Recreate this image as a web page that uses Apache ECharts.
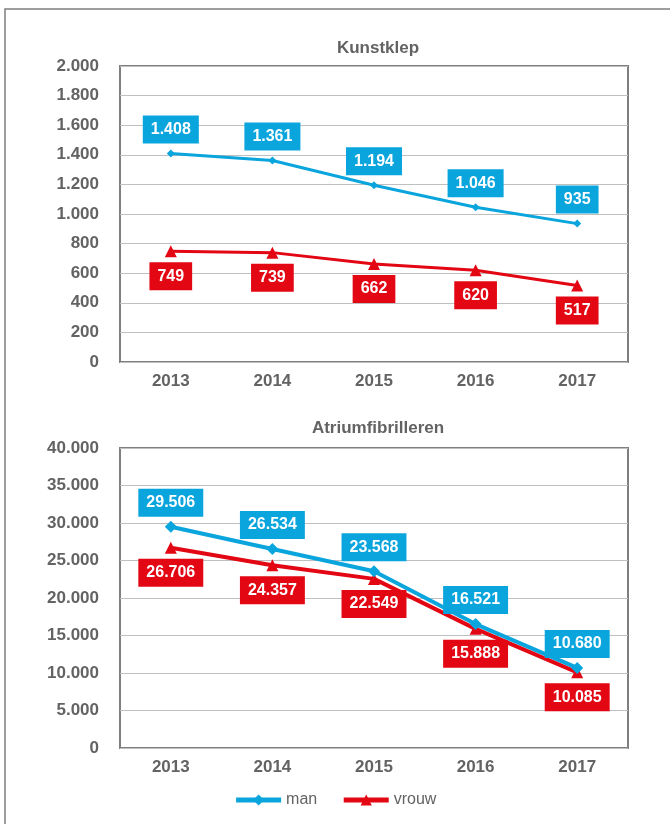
<!DOCTYPE html>
<html>
<head>
<meta charset="utf-8">
<script src="https://cdn.jsdelivr.net/npm/echarts@6/dist/echarts.min.js"></script>
<style>
html,body{margin:0;padding:0;background:#fff;}
#chart{width:670px;height:824px;}
</style>
</head>
<body>
<div id="chart"></div>
<script>
// data
var years = ['2013', '2014', '2015', '2016', '2017'];
var klepMan = [1408, 1361, 1194, 1046, 935];
var klepVrouw = [749, 739, 662, 620, 517];
var afMan = [29506, 26534, 23568, 16521, 10680];
var afVrouw = [26706, 24357, 22549, 15888, 10085];
var titles = ['Kunstklep', 'Atriumfibrilleren'];

var blue = '#0aa5dd';
var red = '#e30613';
var grey = '#636363';
var font = 'Liberation Sans';

// 1.408 stijl
function dots(v) {
    return String(v).replace(/\B(?=(\d{3})+(?!\d))/g, '.');
}

function labelStyle(color, pos, dist) {
    return {
        show: true,
        position: pos,
        distance: dist,
        backgroundColor: color,
        color: '#fff',
        fontFamily: font,
        fontWeight: 'bold',
        fontSize: 16,
        padding: [6, 8, 6, 8],
        formatter: function (p) { return dots(p.value); }
    };
}

function manSeries(data, idx) {
    return {
        name: 'man',
        type: 'line',
        xAxisIndex: idx,
        yAxisIndex: idx,
        data: data,
        symbol: 'diamond',
        symbolSize: idx ? 12 : 8,
        lineStyle: {color: blue, width: idx ? 4 : 3},
        itemStyle: {color: blue},
        label: labelStyle(blue, 'top', idx ? 4 : 6),
        z: 3
    };
}

function vrouwSeries(data, idx) {
    return {
        name: 'vrouw',
        type: 'line',
        xAxisIndex: idx,
        yAxisIndex: idx,
        data: data,
        symbol: 'triangle',
        symbolSize: 12,
        lineStyle: {color: red, width: idx ? 4 : 3},
        itemStyle: {color: red},
        label: labelStyle(red, 'bottom', 5),
        z: 2
    };
}

function xAxis(idx) {
    return {
        type: 'category',
        gridIndex: idx,
        data: years,
        axisLine: {show: false},
        axisTick: {show: false},
        axisLabel: {color: grey, fontFamily: font, fontWeight: 'bold', fontSize: 17, margin: 11}
    };
}

function yAxis(idx, max, step) {
    return {
        type: 'value',
        gridIndex: idx,
        min: 0,
        max: max,
        interval: step,
        axisLine: {show: false},
        axisTick: {show: false},
        axisLabel: {
            color: grey, fontFamily: font, fontWeight: 'bold', fontSize: 17, margin: 21,
            formatter: function (v) { return dots(v); }
        },
        splitLine: {lineStyle: {color: '#bfbfbf', width: 1}}
    };
}

var myChart = echarts.init(document.getElementById('chart'));
var option = {
    animation: false,
    title: [
        {text: titles[0], left: 373, top: 35, textAlign: 'center',
            textStyle: {color: grey, fontFamily: font, fontWeight: 'bold', fontSize: 17}},
        {text: titles[1], left: 373, top: 415, textAlign: 'center',
            textStyle: {color: grey, fontFamily: font, fontWeight: 'bold', fontSize: 17}}
    ],
    legend: {
        bottom: 11,
        left: 'center',
        itemWidth: 45,
        itemHeight: 14,
        itemGap: 24,
        lineStyle: {width: 5},
        textStyle: {color: grey, fontFamily: font, fontSize: 16},
        data: ['man', 'vrouw']
    },
    grid: [
        {left: 120, right: 42, top: 66, height: 296, show: true, borderColor: '#7f7f7f', borderWidth: 2},
        {left: 120, right: 42, top: 448, height: 300, show: true, borderColor: '#7f7f7f', borderWidth: 2}
    ],
    xAxis: [xAxis(0), xAxis(1)],
    yAxis: [yAxis(0, 2000, 200), yAxis(1, 40000, 5000)],
    series: [
        manSeries(klepMan, 0),
        vrouwSeries(klepVrouw, 0),
        manSeries(afMan, 1),
        vrouwSeries(afVrouw, 1)
    ],
    graphic: [{
        type: 'rect',
        shape: {x: 5, y: 9, width: 700, height: 860},
        style: {fill: 'none', stroke: '#7f7f7f', lineWidth: 1.5},
        silent: true
    }]
};
myChart.setOption(option);
</script>
</body>
</html>
